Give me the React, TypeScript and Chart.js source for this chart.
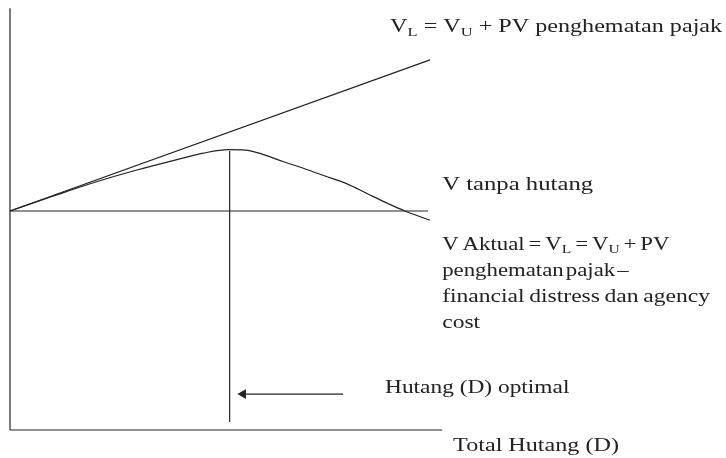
import React, { useEffect, useRef } from "react";
import { Chart, registerables } from "chart.js";
Chart.register(...registerables);

// Total debt (D) and firm values (V)
const debt = [0, 1, 2, 3, 4, 4.6, 5.2, 5.6, 6, 6.5, 7, 7.5, 8, 8.5, 9, 9.4, 10];
const vActual = [5, 5.33, 5.65, 5.93, 6.18, 6.32, 6.4, 6.39, 6.3, 6.13, 5.97, 5.8, 5.63, 5.4, 5.17, 5.0, 4.79];
const vlDebt = [0, 10];
const vlValues = [5, 8.45];
const vuDebt = [0, 9.95];
const vuValues = [5, 5];
const optimalDebt = 5.23;
const optimalSpan = [0.18, 6.37];
const arrowDebt = [5.55, 7.93];
const arrowValue = 0.82;
const axisXSpan = [0, 10.29];
const axisYSpan = [0, 9.63];

const labelTexts = [
  "V_L = V_U + PV penghematan pajak",
  "V tanpa hutang",
  "V Aktual = V_L = V_U + PV",
  "penghematan pajak –",
  "financial distress dan agency",
  "cost",
  "Hutang (D) optimal",
  "Total Hutang (D)",
];
const labelDebt = [9.05, 10.29, 10.29, 10.29, 10.29, 10.29, 8.93, 10.55];
const labelValue = [9.08, 5.48, 4.11, 3.52, 2.92, 2.33, 0.845, -0.48];
const labelStretch = [1.27, 1.3, 1.2, 1.2, 1.24, 1.24, 1.23, 1.27];
const labelWordGap = [0, 0, -1.5, -3, -1, 0, 0, 0];

const FONT = '"Liberation Serif", "Times New Roman", serif';
const FONT_SIZE = 19;
const INK = "#222";

function drawRich(ctx: CanvasRenderingContext2D, text: string, x: number, y: number) {
  let cx = x;
  let i = 0;
  while (i < text.length) {
    if (text[i] === "_" && i + 1 < text.length) {
      ctx.font = `${Math.round(FONT_SIZE * 0.68)}px ${FONT}`;
      ctx.fillText(text[i + 1], cx, y + FONT_SIZE * 0.18);
      cx += ctx.measureText(text[i + 1]).width;
      i += 2;
    } else {
      let j = i;
      while (j < text.length && text[j] !== "_") j++;
      const seg = text.slice(i, j);
      ctx.font = `${FONT_SIZE}px ${FONT}`;
      ctx.fillText(seg, cx, y);
      cx += ctx.measureText(seg).width;
      i = j;
    }
  }
}

const textPlugin = {
  id: "textLabels",
  afterDatasetsDraw(chart: any) {
    const { ctx, scales } = chart;
    ctx.save();
    ctx.fillStyle = INK;
    ctx.textBaseline = "alphabetic";
    ctx.textAlign = "left";
    labelTexts.forEach((t, k) => {
      const px = scales.x.getPixelForValue(labelDebt[k]);
      const py = scales.y.getPixelForValue(labelValue[k]);
      ctx.save();
      ctx.translate(px, py);
      ctx.scale(labelStretch[k], 1);
      (ctx as any).wordSpacing = `${labelWordGap[k]}px`;
      drawRich(ctx, t, 0, 0);
      ctx.restore();
    });
    ctx.restore();
  },
};

const line = (xs: number[], ys: number[], extra: any = {}) => ({
  data: xs.map((x, i) => ({ x, y: ys[i] })),
  showLine: true,
  borderColor: INK,
  backgroundColor: INK,
  borderWidth: 1.2,
  pointRadius: 0,
  clip: false,
  ...extra,
});

export default function App() {
  const ref = useRef<HTMLCanvasElement>(null);
  useEffect(() => {
    if (!ref.current) return;
    const chart = new Chart(ref.current, {
      type: "scatter",
      data: {
        datasets: [
          line([0, 0], axisYSpan),
          line(axisXSpan, [0, 0]),
          line(vuDebt, vuValues),
          line(vlDebt, vlValues),
          line(debt, vActual, { tension: 0.4, cubicInterpolationMode: "monotone" }),
          line([optimalDebt, optimalDebt], optimalSpan),
          line(arrowDebt, [arrowValue, arrowValue], {
            pointRadius: [4.5, 0],
            pointStyle: "triangle",
            rotation: 270,
          }),
        ],
      },
      options: {
        animation: false,
        responsive: false,
        events: [],
        layout: { padding: 0, autoPadding: false },
        plugins: { legend: { display: false }, tooltip: { enabled: false } },
        scales: {
          x: { type: "linear", display: false, min: -10 / 42, max: 716 / 42 },
          y: { type: "linear", display: false, min: -28 / 43.8, max: 430 / 43.8 },
        },
      },
      plugins: [textPlugin],
    });
    return () => chart.destroy();
  }, []);
  return (
    <div style={{ position: "fixed", left: 0, top: 0, width: 726, height: 458, background: "#fff" }}>
      <canvas ref={ref} width={726} height={458} />
    </div>
  );
}
